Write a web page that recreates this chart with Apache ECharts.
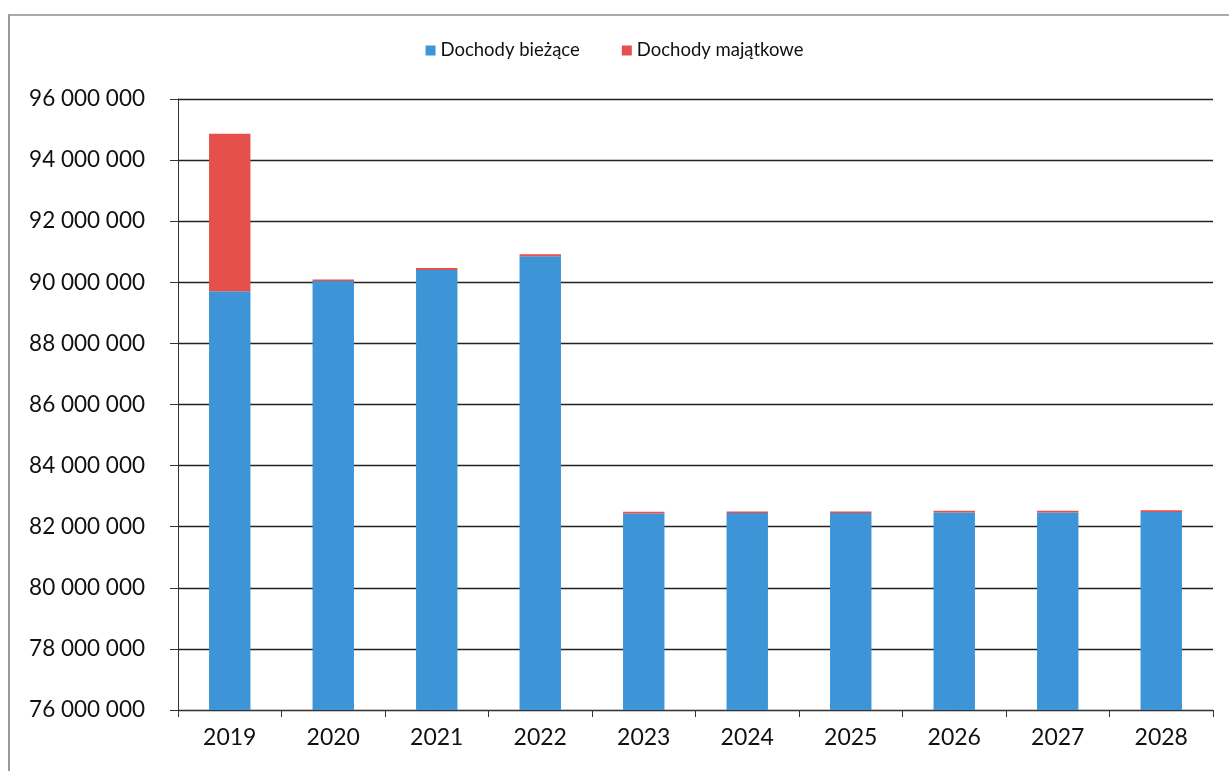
<!DOCTYPE html>
<html><head><meta charset="utf-8">
<script src="https://cdn.jsdelivr.net/npm/echarts@6/dist/echarts.min.js"></script>
<style>html,body{margin:0;padding:0;background:#fff}#c{width:1229px;height:771px}
#frame{position:absolute;left:8px;top:14px;width:1230px;height:770px;border-left:2px solid #999;border-top:2px solid #aaa;pointer-events:none}</style>
</head><body><div id="c"></div><div id="frame"></div>
<script>
const years = ['2019','2020','2021','2022','2023','2024','2025','2026','2027','2028'];
const biezace = [89710000, 90040000, 90400000, 90850000, 82435000, 82445000, 82445000, 82465000, 82465000, 82485000];
const majatkowe = [5150000, 50000, 70000, 70000, 55000, 55000, 55000, 55000, 55000, 55000];
const seriesNames = ['Dochody bieżące', 'Dochody majątkowe'];

const chart = echarts.init(document.getElementById('c'));
const fmt = v => String(v).replace(/\B(?=(\d{3})+(?!\d))/g, ' ');
chart.setOption({
  animation: false,
  textStyle: {fontFamily: 'Lato'},
  legend: {
    top: 36, left: 'center', itemWidth: 10, itemHeight: 10, itemGap: 42,
    icon: 'rect',
    textStyle: {fontSize: 18.5, color: '#111', fontFamily: 'Lato'},
    data: seriesNames
  },
  grid: {left: 178, right: 16, top: 99, bottom: 61},
  xAxis: {
    type: 'category', data: years,
    axisLine: {lineStyle: {color: '#333', width: 1}},
    axisTick: {show: true, length: 7, lineStyle: {color: '#333'}},
    axisLabel: {fontSize: 23, color: '#111', margin: 16}
  },
  yAxis: {
    type: 'value', min: 76000000, max: 96000000, interval: 2000000,
    axisLine: {show: true, lineStyle: {color: '#333'}},
    axisTick: {show: true, length: 8, lineStyle: {color: '#333'}},
    splitLine: {lineStyle: {color: '#222', width: 1.3}},
    axisLabel: {fontSize: 22.5, color: '#111', margin: 33, formatter: fmt}
  },
  series: [
    {name: seriesNames[0], type: 'bar', stack: 'a', data: biezace, barWidth: '40%',
     itemStyle: {color: '#3D94D6'}},
    {name: seriesNames[1], type: 'bar', stack: 'a', data: majatkowe, barWidth: '40%',
     itemStyle: {color: '#E5504C'}}
  ]
});
</script></body></html>
